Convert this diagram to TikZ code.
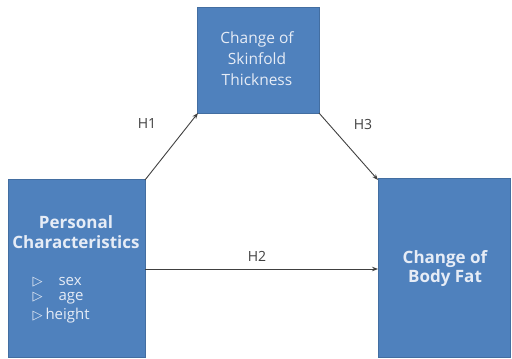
\documentclass[tikz,border=0pt]{standalone}
\usepackage{fontspec}
\setmainfont{Open Sans}
\newfontfamily\symfont{DejaVu Sans}
\usetikzlibrary{arrows.meta}
\definecolor{boxblue}{HTML}{4F81BD}
\definecolor{boxtext}{HTML}{E6ECF6}
\definecolor{linegray}{HTML}{404040}
\tikzset{
  varbox/.style={fill=boxblue, draw=boxblue!85!black, line width=0.5pt, inner sep=0pt, text=boxtext, align=center},
  conn/.style={draw=linegray, line width=0.9pt, -{Stealth[length=6pt,width=4.5pt]}},
  hlabel/.style={text=linegray, font=\fontsize{14}{16}\selectfont},
  bullet/.style={text=boxtext, anchor=west, font=\fontsize{15}{17}\selectfont}
}
\newcommand{\tri}{{\symfont\fontsize{13}{15}\selectfont ▷}}
\begin{document}
\begin{tikzpicture}[x=1pt,y=-1pt]
\useasboundingbox (0,0) rectangle (512,359);
\node[varbox, minimum width=137pt, minimum height=178pt] (pc) at (76.5,268.5) {};
\node[varbox, minimum width=122pt, minimum height=106pt] (sk) at (258.5,60) {};
\node[varbox, minimum width=132pt, minimum height=179pt] (bf) at (444,267.5) {};
\node[text=boxtext, align=center, font=\fontsize{17}{20}\selectfont\bfseries] (pct) at (76,232) {Personal\\Characteristics};
\node[bullet] (b1) at (29,282) {\tri\hspace{16pt}sex};
\node[bullet] (b2) at (29,298) {\tri\hspace{16pt}age};
\node[bullet] (b3) at (29,316) {\tri\hspace{3pt}height};
\node[text=boxtext, align=center, font=\fontsize{15.5}{21}\selectfont] (skt) at (257,59) {Change of\\Skinfold\\Thickness};
\node[text=boxtext, align=center, font=\fontsize{17}{19}\selectfont\bfseries] (bft) at (445,269) {Change of\\Body Fat};
\coordinate (pcA) at (145,180);
\coordinate (skA) at (198,113);
\coordinate (skB) at (319,113);
\coordinate (bfA) at (378,180);
\coordinate (pcB) at (145,269);
\coordinate (bfB) at (378,269);
\draw[conn] (pcA) -- (skA);
\draw[conn] (skB) -- (bfA);
\draw[conn] (pcB) -- (bfB);
\node[hlabel] (h1) at (147,124) {H1};
\node[hlabel] (h3) at (363,124) {H3};
\node[hlabel] (h2) at (257,256) {H2};
\end{tikzpicture}
\end{document}
